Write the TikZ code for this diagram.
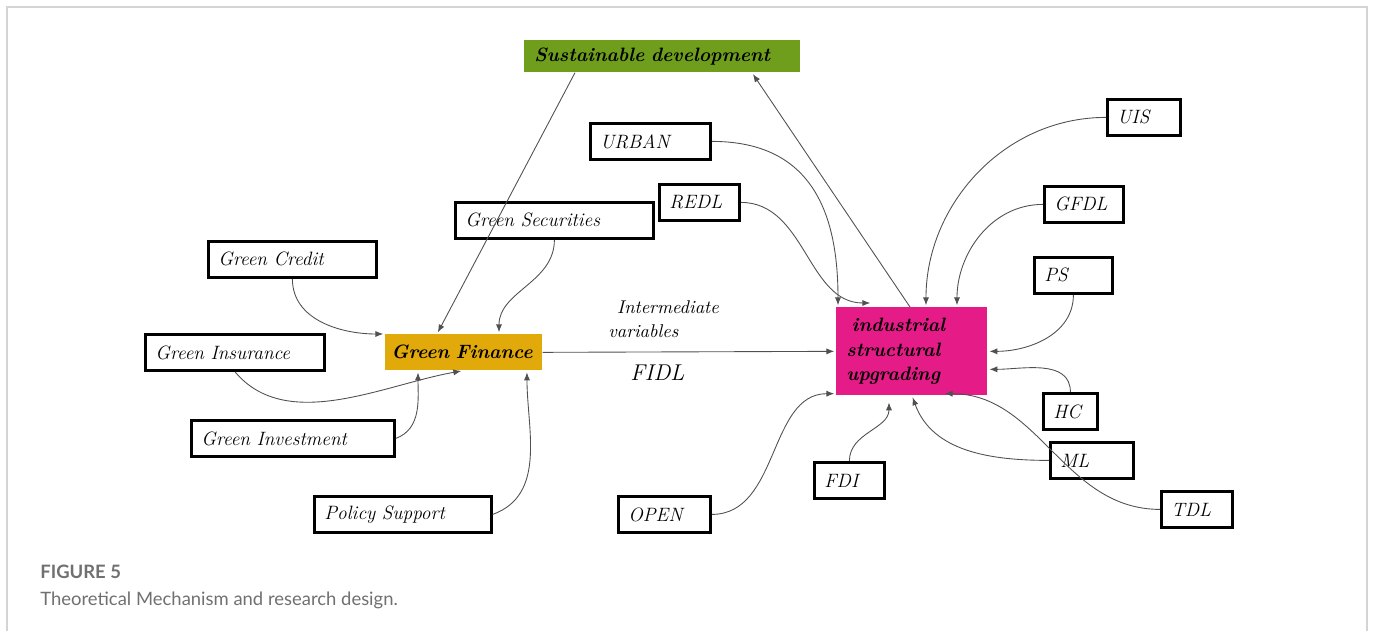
\documentclass[tikz,border=0pt]{standalone}
\usepackage{fontspec}
\newfontfamily\capfont{Lato}
\usetikzlibrary{arrows.meta}
\definecolor{sdgreen}{RGB}{110,158,28}
\definecolor{gfgold}{RGB}{226,169,10}
\definecolor{isupink}{RGB}{229,27,135}
\definecolor{capgray}{RGB}{112,112,112}
\definecolor{framegray}{RGB}{212,212,212}
\definecolor{linkgray}{RGB}{80,80,80}

\begin{document}
\begin{tikzpicture}[x=0.02cm,y=-0.02cm,
   >={Latex[length=4.5pt,width=3.5pt]},
   vbox/.style={draw,line width=1.6pt,anchor=north west,minimum height=0.72cm,
      inner xsep=0.2cm,inner ysep=0pt,align=left,
      font=\fontsize{11}{13}\selectfont\itshape},
   fillbox/.style={anchor=north west,inner xsep=0.2cm,inner ysep=0pt,align=left,
      font=\fontsize{11}{14}\selectfont\bfseries\itshape},
   link/.style={->,linkgray,line width=0.5pt,shorten >=1pt}]
         \useasboundingbox (0,0) rectangle (1373,631);
         \draw[framegray,line width=0.85pt] (7,631) -- (7,7) -- (1367,7) -- (1367,631);
         % filled boxes
         \node[fillbox,fill=sdgreen,minimum height=0.64cm,text width=5.12cm] (sd) at (524,40) {Sustainable development};
         \node[fillbox,fill=gfgold,minimum height=0.72cm,inner xsep=0.12cm,text width=2.9cm] (gf) at (385,334) {Green Finance};
         \node[fillbox,fill=isupink,minimum height=1.76cm,text width=2.62cm] (isu) at (836,307) {\hspace{3pt}industrial\\structural\\upgrading};
         % green finance side
         \node[vbox,text width=2.96cm] (credit) at (207,240) {Green Credit};
         \node[vbox,text width=3.18cm] (insur) at (144,333) {Green Insurance};
         \node[vbox,text width=3.66cm] (invest) at (190,419) {Green Investment};
         \node[vbox,text width=3.56cm] (secur) at (454,201) {Green Securities};
         \node[vbox,text width=3.14cm] (policy) at (313,495) {Policy Support};
         % controls
         \node[vbox,text width=2.0cm] (urban) at (589,122) {URBAN};
         \node[vbox,text width=1.2cm] (redl) at (658,183) {REDL};
         \node[vbox,text width=1.44cm] (open) at (617,495) {OPEN};
         \node[vbox,text width=1.0cm] (fdi) at (813,461) {FDI};
         \node[vbox,text width=1.06cm] (uis) at (1106,98) {UIS};
         \node[vbox,text width=1.18cm] (gfdl) at (1043,185) {GFDL};
         \node[vbox,text width=1.16cm] (ps) at (1033,256) {PS};
         \node[vbox,text width=0.68cm] (hc) at (1042,392) {HC};
         \node[vbox,text width=1.26cm] (ml) at (1049,441) {ML};
         \node[vbox,text width=1.02cm] (tdl) at (1160,490) {TDL};
         % mediator text
         \node[anchor=base west,inner sep=0pt,align=left,font=\fontsize{10.5}{14}\selectfont\itshape] (interm) at (608,338) {\hspace{5pt}Intermediate\\variables};
         \node[anchor=base west,inner sep=0pt,font=\fontsize{13}{15}\selectfont\itshape] (fidl) at (630,381) {FIDL};
         % arrows
         \draw[link] ([xshift=1.02cm]sd.south west) -- ([xshift=1.04cm]gf.north west);
         \draw[link] ([xshift=1.48cm]isu.north west) -- ([xshift=4.56cm]sd.south west);
         \draw[link] (credit.south) to[out=-90,in=180] (gf.north west);
         \draw[link] ([xshift=1.82cm]insur.south west) to[out=-50,in=-170,looseness=0.9] ([xshift=1.56cm]gf.south west);
         \draw[link] (invest.east) to[out=20,in=-90] ([xshift=0.66cm]gf.south west);
         \draw[link] (secur.south) to[out=-90,in=90] ([xshift=2.28cm]gf.north west);
         \draw[link] (policy.east) to[out=20,in=-90] ([xshift=2.84cm]gf.south west);
         \draw[link] (gf.east) -- (isu.west);
         \draw[link] (urban.east) to[out=0,in=90,looseness=1.2] ([xshift=0.04cm]isu.north west);
         \draw[link] (redl.east) to[out=0,in=180] ([xshift=0.72cm,yshift=0.08cm]isu.north west);
         \draw[link] (uis.west) to[out=180,in=90] ([xshift=1.8cm]isu.north west);
         \draw[link] (gfdl.west) to[out=180,in=90] ([xshift=2.42cm]isu.north west);
         \draw[link] (ps.south) to[out=-90,in=0] (isu.east);
         \draw[link] (hc.north) to[out=90,in=0] ([yshift=-0.36cm]isu.east);
         \draw[link] (ml.west) to[out=180,in=-70] ([xshift=1.52cm]isu.south west);
         \draw[link] (tdl.west) to[out=180,in=0] ([xshift=2.14cm,yshift=0.04cm]isu.south west);
         \draw[link] (fdi.north) to[out=90,in=-90] ([xshift=1.06cm,yshift=-0.1cm]isu.south west);
         \draw[link] (open.east) to[out=0,in=180] ([yshift=0.04cm]isu.south west);
         % caption
         \node[anchor=base west,inner sep=0pt,text=capgray,font=\capfont\bfseries\fontsize{10.5}{12}\selectfont] (figno) at (40,578) {FIGURE 5};
         \node[anchor=base west,inner sep=0pt,text=capgray,font=\capfont\fontsize{10.5}{12}\selectfont] (figcap) at (40,605) {Theoretical Mechanism and research design.};
      \end{tikzpicture}
\end{document}
